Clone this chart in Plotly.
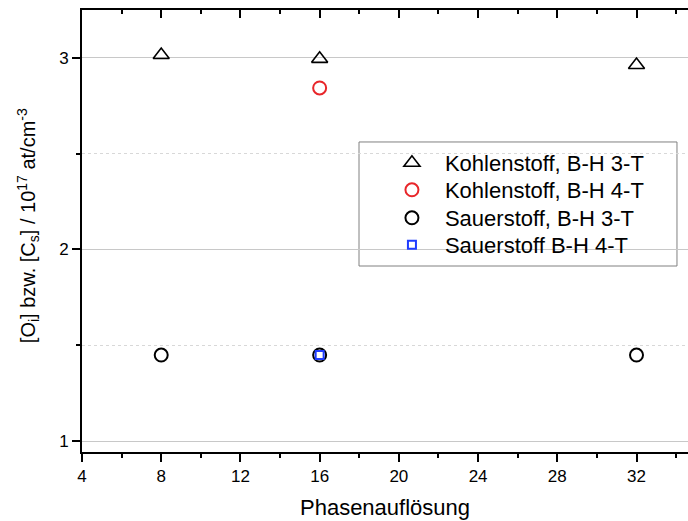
import plotly.graph_objects as go

x_c3 = [8, 16, 32]
y_c3 = [3.015, 2.995, 2.963]
x_c4 = [16]
y_c4 = [2.843]
x_o3 = [8, 16, 32]
y_o3 = [1.449, 1.449, 1.449]
x_o4 = [16]
y_o4 = [1.449]

x_ticks = [4, 8, 12, 16, 20, 24, 28, 32]
x_minor = [6, 10, 14, 18, 22, 26, 30, 34]
y_ticks = [1, 2, 3]
y_minor = [1.5, 2.5]

names = ["Kohlenstoff, B-H 3-T", "Kohlenstoff, B-H 4-T",
         "Sauerstoff, B-H 3-T", "Sauerstoff B-H 4-T"]

fig = go.Figure()
fig.add_trace(go.Scatter(x=x_c3, y=y_c3, mode="markers", name=names[0], legend="legend",
                         marker=dict(symbol="triangle-up-open", size=14, color="black",
                                     line=dict(width=1.6, color="black"))))
fig.add_trace(go.Scatter(x=x_c4, y=y_c4, mode="markers", name=names[1], legend="legend2",
                         marker=dict(symbol="circle-open", size=13, color="#e8262a",
                                     line=dict(width=2, color="#e8262a"))))
fig.add_trace(go.Scatter(x=x_o3, y=y_o3, mode="markers", name=names[2], legend="legend3",
                         marker=dict(symbol="circle-open", size=13, color="black",
                                     line=dict(width=2, color="black"))))
fig.add_trace(go.Scatter(x=x_o4, y=y_o4, mode="markers", name=names[3], legend="legend4",
                         marker=dict(symbol="square-open", size=8, color="#1f3cff",
                                     line=dict(width=2, color="#1f3cff"))))
# invisible trace for top axis
fig.add_trace(go.Scatter(x=[4], y=[2], xaxis="x2", mode="markers",
                         marker=dict(opacity=0), showlegend=False, hoverinfo="skip"))

font = "Liberation Sans, Arial, sans-serif"
xr = [4, 34.6]


def leg(yc):
    return dict(x=0.490, y=yc, xanchor="left", yanchor="middle",
                bgcolor="rgba(0,0,0,0)", borderwidth=0,
                font=dict(size=22), itemwidth=56)


fig.update_layout(
    width=688, height=521,
    margin=dict(l=82, r=0, t=10, b=69),
    plot_bgcolor="white", paper_bgcolor="white",
    font=dict(family=font, size=17, color="black"),
    xaxis=dict(range=xr, tickvals=x_ticks, showgrid=False,
               ticks="outside", ticklen=8, tickwidth=1.5, tickcolor="black",
               showline=True, linewidth=2, linecolor="black", zeroline=False,
               minor=dict(tickvals=x_minor, ticks="outside",
                          ticklen=4, tickwidth=1.5, tickcolor="black"),
               title=dict(text="Phasenauflösung", font=dict(size=22), standoff=14),
               tickfont=dict(size=17)),
    xaxis2=dict(range=xr, overlaying="x", side="top", anchor="y",
                tickvals=x_ticks, showticklabels=False,
                ticks="inside", ticklen=8, tickwidth=1.5, tickcolor="black",
                showline=True, linewidth=2, linecolor="black", showgrid=False, zeroline=False,
                minor=dict(tickvals=x_minor, ticks="inside",
                           ticklen=4, tickwidth=1.5, tickcolor="black")),
    yaxis=dict(range=[0.943, 3.25], tickvals=y_ticks, ticks="outside", ticklen=8,
               tickwidth=1.5, tickcolor="black", showline=True, linewidth=2,
               linecolor="black", zeroline=False,
               showgrid=True, gridcolor="#c8c8c8", gridwidth=1,
               minor=dict(tickvals=y_minor, ticks="outside", ticklen=4,
                          tickwidth=1.5, tickcolor="black", showgrid=True,
                          gridcolor="#d8d8d8", griddash="dot", gridwidth=1),
               tickfont=dict(size=17)),
    legend=leg(0.6538),
    legend2=leg(0.5928),
    legend3=leg(0.5294),
    legend4=leg(0.4683),
    shapes=[dict(type="rect", xref="paper", yref="paper",
                 x0=0.4571, x1=0.9818, y0=0.4208, y1=0.7014,
                 line=dict(color="#808080", width=1), fillcolor="white",
                 layer="between")],
    annotations=[dict(text="[O<sub>i</sub>] bzw. [C<sub>s</sub>] / 10<sup>17</sup> at/cm<sup>-3</sup>",
                      xref="paper", yref="paper", x=-0.0891, y=0.511,
                      xanchor="center", yanchor="middle", textangle=-90,
                      showarrow=False, font=dict(size=20))],
    showlegend=True,
)
fig.write_html("out.html")
